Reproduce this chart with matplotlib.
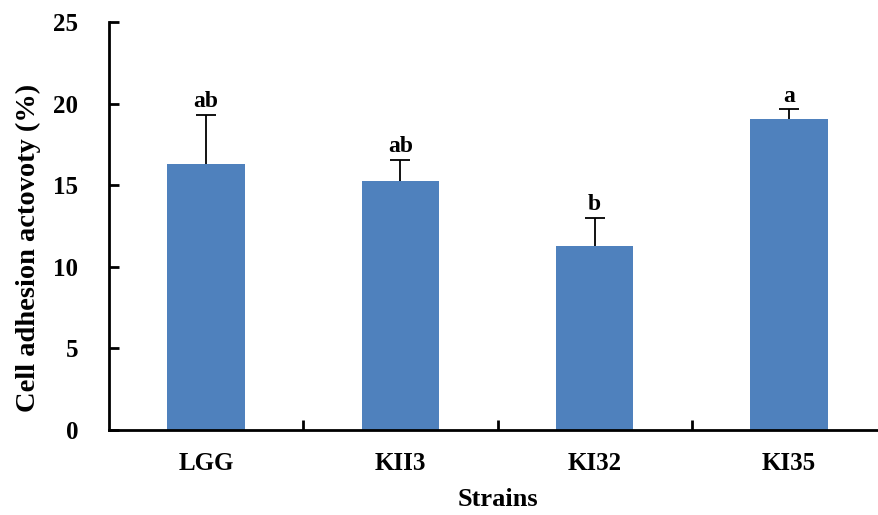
import matplotlib.pyplot as plt
import numpy as np

plt.rcParams['font.family'] = ['Liberation Serif', 'DejaVu Serif']
plt.rcParams['font.weight'] = 'bold'

strains = ['LGG', 'KII3', 'KI32', 'KI35']
adhesion = [16.3, 15.25, 11.25, 19.05]
errors = [3.0, 1.3, 1.75, 0.6]
letters = ['ab', 'ab', 'b', 'a']

fig = plt.figure(figsize=(8.79, 5.15), dpi=100)
ax = fig.add_axes([0.124, 0.165, 0.884, 0.792])

x = np.arange(len(strains))
ax.bar(x, adhesion, 0.4, color='#4F81BD', zorder=2)
eb = ax.errorbar(x, adhesion, yerr=[np.zeros(len(errors)), errors], fmt='none',
                 ecolor='black', elinewidth=1.3, capsize=7, capthick=1.3, zorder=3)
# only the upper cap is drawn
eb[1][0].set_visible(False)

for xi, v, e, lab in zip(x, adhesion, errors, letters):
    ax.annotate(lab, (xi, v + e), xytext=(0, 2), textcoords='offset points',
                ha='center', va='bottom', fontsize=17, fontweight='bold')

ax.set_xlim(-0.5, 3.5)
ax.set_ylim(0, 25)
ax.set_yticks([0, 5, 10, 15, 20, 25])
ax.set_xticks(x)
ax.set_xticklabels(strains)
ax.set_xticks([0.5, 1.5, 2.5], minor=True)

ax.spines['top'].set_visible(False)
ax.spines['right'].set_visible(False)
ax.spines['left'].set_linewidth(2)
ax.spines['bottom'].set_linewidth(2)

ax.tick_params(axis='y', direction='in', length=7, width=2, pad=22, labelsize=18)
ax.tick_params(axis='x', which='major', length=0, pad=16, labelsize=18)
ax.tick_params(axis='x', which='minor', direction='in', length=7, width=2)

ax.set_ylabel('Cell adhesion actovoty (%)', fontsize=20.5, fontweight='bold')
ax.yaxis.set_label_coords(-0.088, 0.446)
ax.set_xlabel('Strains', fontsize=19, fontweight='bold', labelpad=9)

fig.savefig('out.png', dpi=100)
